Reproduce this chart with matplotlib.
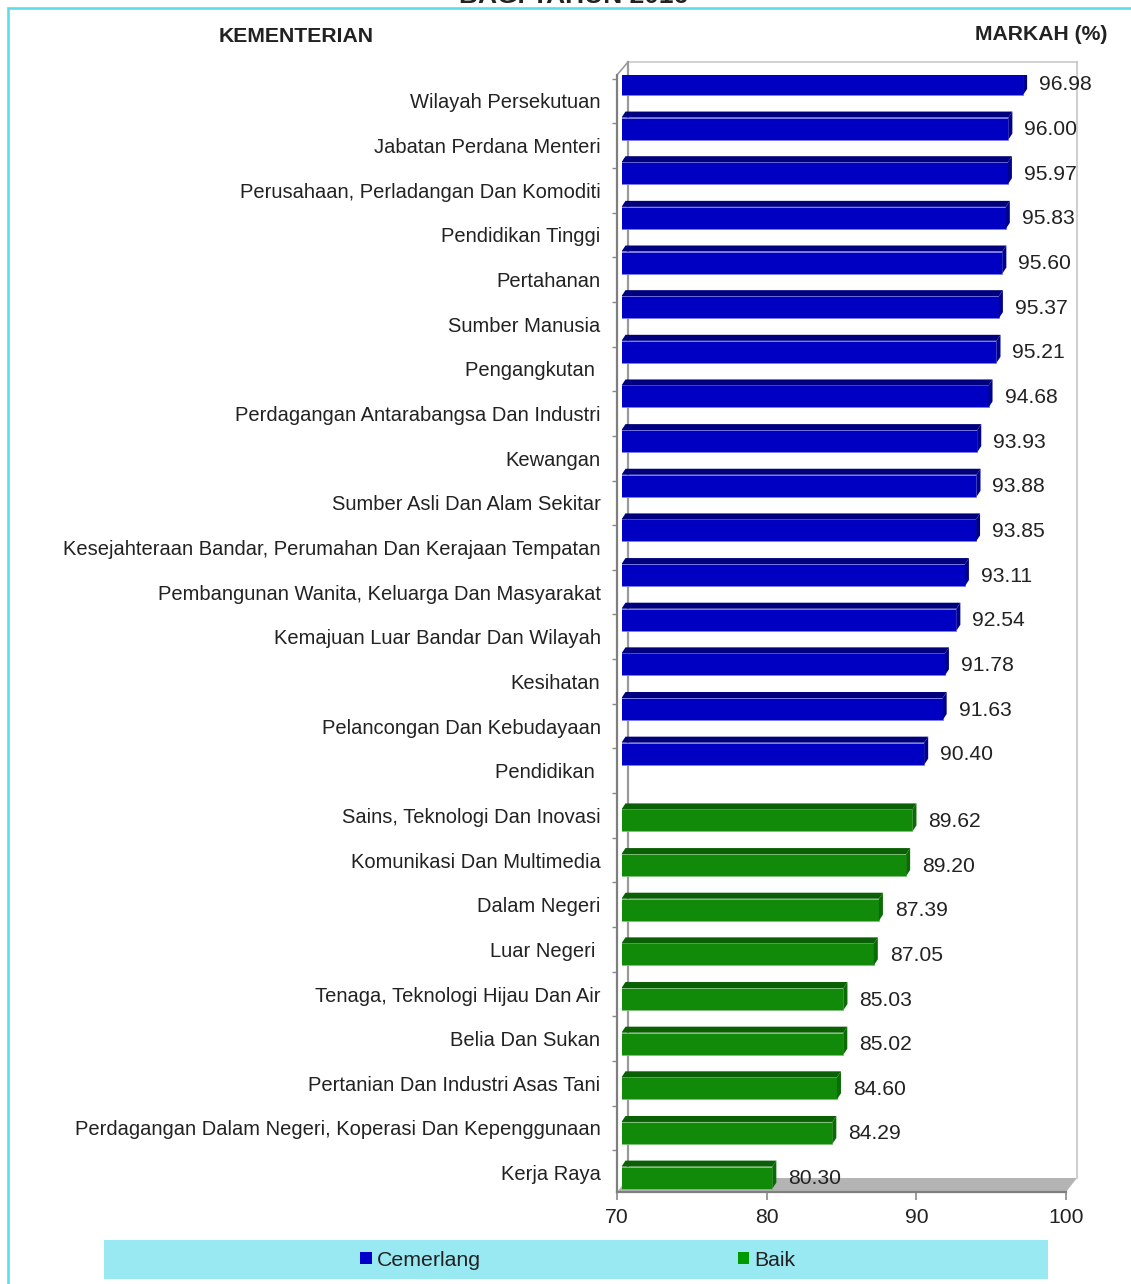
import matplotlib
matplotlib.use("Agg")
import matplotlib.pyplot as plt
from matplotlib.patches import Polygon, Rectangle

plt.rcParams['font.family'] = ['Liberation Sans', 'DejaVu Sans']

# ---------------- data ----------------
categories = [
    "Wilayah Persekutuan",
    "Jabatan Perdana Menteri",
    "Perusahaan, Perladangan Dan Komoditi",
    "Pendidikan Tinggi",
    "Pertahanan",
    "Sumber Manusia",
    "Pengangkutan ",
    "Perdagangan Antarabangsa Dan Industri",
    "Kewangan",
    "Sumber Asli Dan Alam Sekitar",
    "Kesejahteraan Bandar, Perumahan Dan Kerajaan Tempatan",
    "Pembangunan Wanita, Keluarga Dan Masyarakat",
    "Kemajuan Luar Bandar Dan Wilayah",
    "Kesihatan",
    "Pelancongan Dan Kebudayaan",
    "Pendidikan ",
    "Sains, Teknologi Dan Inovasi",
    "Komunikasi Dan Multimedia",
    "Dalam Negeri",
    "Luar Negeri ",
    "Tenaga, Teknologi Hijau Dan Air",
    "Belia Dan Sukan",
    "Pertanian Dan Industri Asas Tani",
    "Perdagangan Dalam Negeri, Koperasi Dan Kepenggunaan",
    "Kerja Raya",
]
cemerlang = [96.98, 96.00, 95.97, 95.83, 95.60, 95.37, 95.21, 94.68, 93.93,
             93.88, 93.85, 93.11, 92.54, 91.78, 91.63, 90.40]
baik = [89.62, 89.20, 87.39, 87.05, 85.03, 85.02, 84.60, 84.29, 80.30]
series_names = ["Cemerlang", "Baik"]
x_ticks = [70, 80, 90, 100]
x_min, x_max = 70, 100

title = "BAGI TAHUN 2016"
left_header = "KEMENTERIAN"
right_header = "MARKAH (%)"

# ---------------- layout helpers ----------------
W, Hpx = 1131, 1284
fig = plt.figure(figsize=(W / 100, Hpx / 100), dpi=100)


def fx(x):
    return x / W


def fy(y):
    return 1 - y / Hpx


def px2pt(p):
    return p * 72 / 100


TXT = '#222222'
FS = 14.5
VFS = 15.2

# background canvas in pixel coordinates (decorations)
canvas = fig.add_axes([0, 0, 1, 1], zorder=0)
canvas.set_xlim(0, W)
canvas.set_ylim(Hpx, 0)
canvas.axis('off')

# outer cyan border (left + top)
canvas.plot([8, 8, W], [Hpx, 8, 8], color='#5CDCEA', lw=px2pt(2.6),
            solid_joinstyle='miter')
# back wall edges
canvas.plot([628, 1077], [62, 62], color='#C8C8C8', lw=px2pt(1.6))
canvas.plot([1077, 1077], [62, 1178], color='#C4C4C4', lw=px2pt(1.6))
canvas.plot([628, 628], [62, 1178], color='#9A9A9A', lw=px2pt(2.2))
canvas.plot([617, 628], [75, 62], color='#9A9A9A', lw=px2pt(1.6))
# floor
canvas.add_patch(Polygon([[628, 1178], [1077, 1178], [1066, 1192], [617, 1192]],
                         closed=True, facecolor='#B4B4B4', edgecolor='none'))
# legend background
canvas.add_patch(Rectangle((104, 1240), 1048 - 104, 1279 - 1240,
                           facecolor='#99E9F3', edgecolor='none'))

# ---------------- main data axes ----------------
ax_left, ax_right = 621.5, 1072.5
ax_top, ax_bot = 75.0, 1192.0
slot_px, slot0 = 44.65, 101.0
ax = fig.add_axes([fx(ax_left), fy(ax_bot), (ax_right - ax_left) / W,
                   (ax_bot - ax_top) / Hpx], zorder=2)
ax.patch.set_visible(False)
ax.set_xlim(x_min, x_max)
ax.set_ylim((ax_bot - slot0) / slot_px, (ax_top - slot0) / slot_px)

n = len(categories)
pos = list(range(n))
ax.set_yticks(pos)
ax.set_yticklabels(categories)
ax.set_yticks([p - 0.5 for p in pos], minor=True)
ax.tick_params(axis='y', which='major', length=0, pad=px2pt(16.5),
               labelsize=FS, labelcolor=TXT)
ax.tick_params(axis='y', which='minor', length=px2pt(5), width=1,
               color='#8A8A8A', direction='out')
ax.set_xticks([])
for s in ['top', 'right', 'bottom']:
    ax.spines[s].set_visible(False)
ax.spines['left'].set_position(('outward', px2pt(4.5)))
ax.spines['left'].set_color('#7F7F7F')
ax.spines['left'].set_linewidth(px2pt(2.2))
ax.spines['left'].set_bounds((ax_bot - slot0) / slot_px, (ax_top - slot0) / slot_px)

# 3D-looking bars
Hb = 28 / slot_px           # full bar height (slot units)
Db = 6 / slot_px            # depth (vertical, slot units)
Wb = 4 / ((ax_right - ax_left) / (x_max - x_min))  # depth (horizontal, x units)

styles = {
    "Cemerlang": dict(front='#0000C2', top='#00007E', side='#00008E',
                      edge='#7C7CF0', offset=-0.45),
    "Baik": dict(front='#128A09', top='#0A6004', side='#0B6C05',
                 edge='#7FC27A', offset=0.045),
}

cem_pos = pos[:len(cemerlang)]
baik_pos = pos[len(cemerlang):]
handles = []
for name, vals, cats in [("Cemerlang", cemerlang, cem_pos), ("Baik", baik, baik_pos)]:
    st = styles[name]
    centers = [c + st['offset'] for c in cats]
    fronts_c = [c + Db / 2 for c in centers]
    widths = [v - Wb - x_min for v in vals]
    bc = ax.barh(fronts_c, widths, left=x_min, height=Hb - Db,
                 color=st['front'], edgecolor=st['edge'], linewidth=0.6,
                 label=name, zorder=3)
    handles.append(bc)
    for c, v in zip(centers, vals):
        yb = c - Hb / 2
        yf = yb + Db
        ybot = c + Hb / 2
        ax.fill([x_min, x_min + Wb, v, v - Wb], [yf, yb, yb, yf],
                color=st['top'], lw=0, zorder=3)
        ax.fill([v - Wb, v, v, v - Wb], [yf, yb, ybot - Db, ybot],
                color=st['side'], lw=0, zorder=3)
        ax.annotate(f"{v:.2f}", xy=(v, c), xytext=(px2pt(12), -px2pt(4)),
                    textcoords='offset points', ha='left', va='center',
                    fontsize=VFS, color=TXT, zorder=4)

# ---------------- front x axis ----------------
fx_left, fx_right = 617.0, 1066.0
ax2 = fig.add_axes([fx(fx_left), fy(ax_bot), (fx_right - fx_left) / W,
                    (ax_bot - ax_top) / Hpx], zorder=1)
ax2.patch.set_visible(False)
ax2.set_xlim(x_min, x_max)
ax2.set_xticks(x_ticks)
ax2.set_xticklabels([str(t) for t in x_ticks])
ax2.set_yticks([])
for s in ['top', 'right', 'left']:
    ax2.spines[s].set_visible(False)
ax2.spines['bottom'].set_color('#7F7F7F')
ax2.spines['bottom'].set_linewidth(px2pt(2.2))
ax2.tick_params(axis='x', length=px2pt(8), width=1.2, color='#8A8A8A',
                pad=px2pt(8), labelsize=VFS, labelcolor=TXT)

# ---------------- texts ----------------
fig.text(fx(574), fy(3), title, ha='center', va='baseline', fontsize=19,
         fontweight='bold', color=TXT)
fig.text(fx(296), fy(37), left_header, ha='center', va='center', fontsize=15.2,
         fontweight='bold', color=TXT)
fig.text(fx(1041), fy(35), right_header, ha='center', va='center', fontsize=15.2,
         fontweight='bold', color=TXT)

# ---------------- legend ----------------
leg = fig.legend(handles=handles, labels=series_names, loc='center',
                 bbox_to_anchor=(fx(578), fy(1260)), ncol=2, frameon=False,
                 fontsize=15.3, handlelength=0.53, handleheight=0.53,
                 handletextpad=0.25, columnspacing=12.1, borderpad=0,
                 labelcolor=TXT)
for h, st in zip(leg.legend_handles, ["Cemerlang", "Baik"]):
    h.set_edgecolor('none')
    h.set_facecolor('#0000C8' if st == "Cemerlang" else '#009900')

fig.savefig("out.png", dpi=100)
